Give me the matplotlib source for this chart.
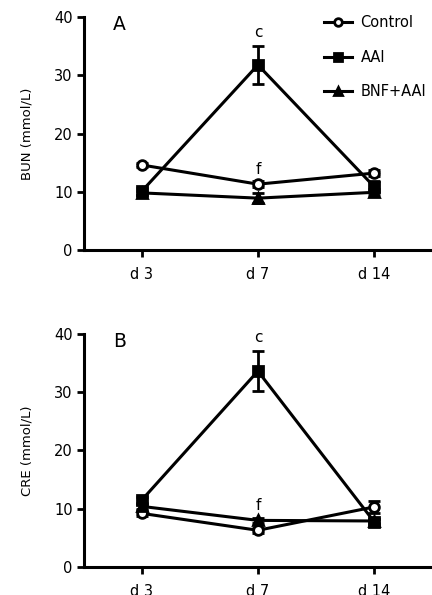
import numpy as np
import matplotlib.pyplot as plt
from matplotlib.lines import Line2D

plt.rcParams['font.family'] = ['DejaVu Sans']

days = ['d 3', 'd 7', 'd 14']
groups = ['Control', 'AAI', 'BNF+AAI']
markers = ['o', 's', '^']

# panel A: BUN
bun_mean = {'Control': [14.6, 11.3, 13.2],
            'AAI': [10.1, 31.8, 10.9],
            'BNF+AAI': [9.8, 8.9, 9.9]}
bun_err = {'Control': [0.4, 0.5, 0.5],
           'AAI': [0.6, 3.3, 1.0],
           'BNF+AAI': [0.4, 0.9, 0.5]}
# panel B: CRE
cre_mean = {'Control': [9.2, 6.3, 10.3],
            'AAI': [11.5, 33.6, 7.8],
            'BNF+AAI': [10.4, 8.0, 7.9]}
cre_err = {'Control': [0.5, 0.4, 1.0],
           'AAI': [0.5, 3.4, 0.5],
           'BNF+AAI': [0.4, 0.4, 0.4]}

fig = plt.figure(figsize=(4.32, 5.95), dpi=100)
ax_a = fig.add_axes([0.194, 0.580, 0.806, 0.391])
ax_b = fig.add_axes([0.194, 0.047, 0.806, 0.392])

x = np.arange(len(days))


def draw_panel(ax, means, errs, ylabel, letter, letter_y):
    for g, m in zip(groups, markers):
        face = 'white' if m == 'o' else 'black'
        ax.errorbar(x, means[g], yerr=errs[g], color='black', lw=2.2,
                    marker=m, ms=7 if m == 'o' else 6.5, mfc=face, mec='black',
                    mew=2, capsize=4, capthick=2, elinewidth=2, label=g,
                    clip_on=False, zorder=3)
    ax.set_xlim(-0.5, 2.5)
    ax.set_ylim(0, 40)
    ax.set_yticks([0, 10, 20, 30, 40])
    ax.set_xticks(x)
    ax.set_xticklabels(days)
    ax.set_ylabel(ylabel, fontsize=9.5, labelpad=15)
    for s in ['top', 'right']:
        ax.spines[s].set_visible(False)
    for s in ['left', 'bottom']:
        ax.spines[s].set_linewidth(2.2)
    ax.tick_params(axis='both', width=2, length=5, labelsize=10.5, pad=3)
    ax.tick_params(axis='x', pad=7)
    ax.text(-0.19, letter_y, letter, fontsize=13.5, ha='center', va='center')
    # significance letters
    top = means['AAI'][1] + errs['AAI'][1]
    ax.text(1, top + 1.0, 'c', fontsize=11, ha='center', va='bottom')
    low = max(means['Control'][1], means['BNF+AAI'][1])
    ax.text(1, low + 1.2, 'f', fontsize=11, ha='center', va='bottom')


draw_panel(ax_a, bun_mean, bun_err, 'BUN (mmol/L)', 'A', 38.7)
draw_panel(ax_b, cre_mean, cre_err, 'CRE (mmol/L)', 'B', 38.6)

handles = [Line2D([], [], color='black', lw=2.2, marker=m, ms=5.5,
                  mfc='white' if m == 'o' else 'black', mec='black', mew=2)
           for m in markers]
ax_a.legend(handles, groups, loc='upper right', bbox_to_anchor=(1.0, 1.035),
            frameon=False, fontsize=10.5, handlelength=1.9, handletextpad=0.6,
            labelspacing=1.35, borderaxespad=0)

fig.savefig('out.png', dpi=100)
